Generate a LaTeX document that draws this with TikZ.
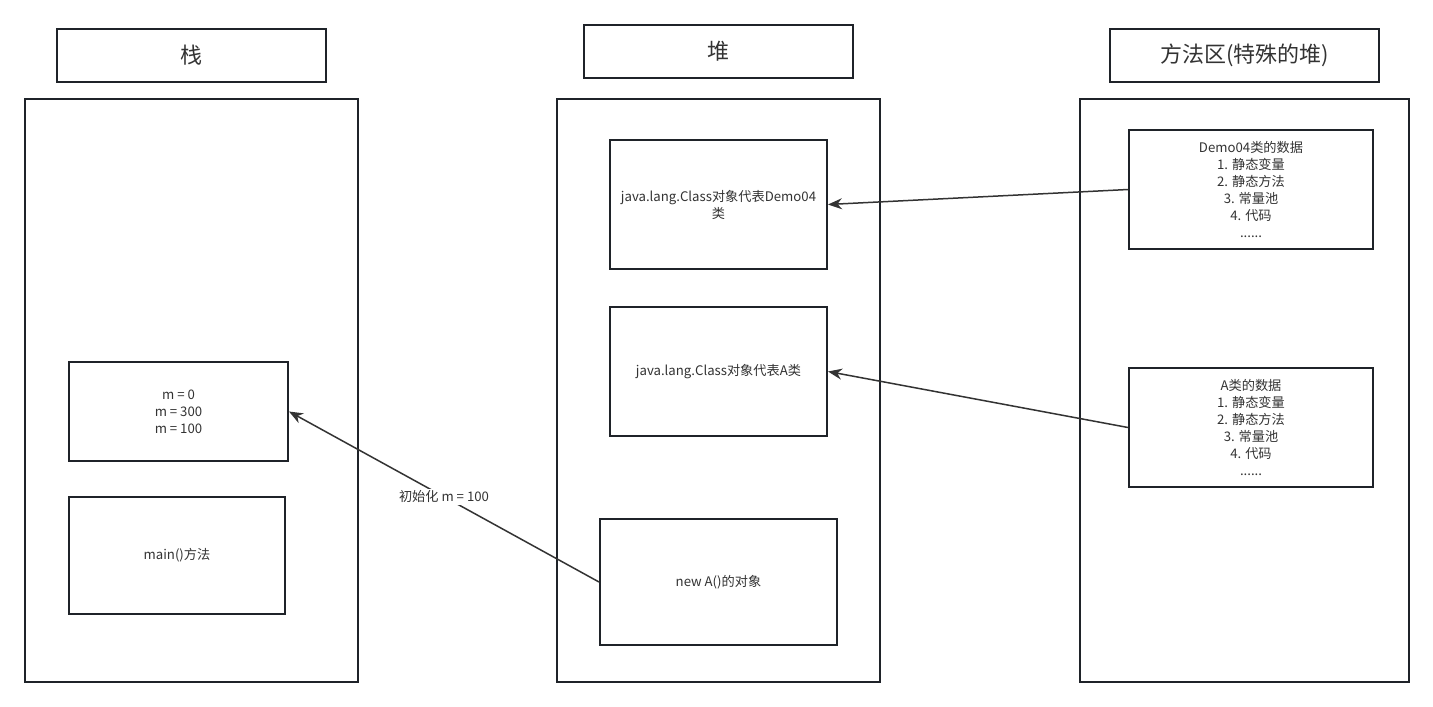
\documentclass[tikz,border=0pt]{standalone}
\usepackage{fontspec}
\setmainfont{Noto Sans CJK SC}
\usepackage{tikz}
\usetikzlibrary{arrows.meta}
\definecolor{edgec}{HTML}{1F2329}
\definecolor{txtc}{HTML}{333333}
\tikzset{
  areabox/.style  = {draw=edgec,line width=1pt,minimum width=#1,minimum height=291.5pt},
  titlebox/.style = {draw=edgec,line width=1pt,minimum width=134.5pt,minimum height=26.5pt,
                     text=txtc,font=\fontsize{11}{13}\selectfont},
  itembox/.style  = {draw=edgec,line width=1pt,text=txtc,align=center,
                     font=\fontsize{6.6}{8.5}\selectfont},
  refarr/.style   = {-{Stealth[length=7pt,width=5.5pt]},line width=0.75pt,draw=txtc}
}
\begin{document}
\begin{tikzpicture}[x=0.5pt,y=-0.5pt]
  \useasboundingbox[fill=white] (0,0) rectangle (1433,706);
  \node[titlebox] (tstack) at (191.5,55.5) {栈};
  \node[titlebox] (theap) at (718.5,51.5) {堆};
  \node[titlebox] (tmeth) at (1244.5,55.5) {方法区(特殊的堆)};
  \node[areabox=166.5pt] (stack) at (191.5,390.5) {};
  \node[areabox=161.5pt] (heap) at (718.5,390.5) {};
  \node[areabox=164.5pt] (meth) at (1244.5,390.5) {};
  \node[itembox,minimum width=109.5pt,minimum height=49.5pt] (mvals) at (178.5,411.5)
    {m = 0\\m = 300\\m = 100};
  \node[itembox,minimum width=108pt,minimum height=58.5pt] (mainm) at (177,555.5) {main()方法};
  \node[itembox,minimum width=108.5pt,minimum height=64.5pt] (clsdemo) at (718.5,204.5)
    {java.lang.Class对象代表Demo04\\类};
  \node[itembox,minimum width=108.5pt,minimum height=64.5pt] (clsa) at (718.5,371.5)
    {java.lang.Class对象代表A类};
  \node[itembox,minimum width=118.5pt,minimum height=63pt] (newa) at (718.5,582) {new A()的对象};
  \node[itembox,minimum width=122pt,minimum height=59.5pt] (ddemo) at (1251,189.5)
    {Demo04类的数据\\1. 静态变量\\2. 静态方法\\3. 常量池\\4. 代码\\......};
  \node[itembox,minimum width=122pt,minimum height=59.5pt] (da) at (1251,427.5)
    {A类的数据\\1. 静态变量\\2. 静态方法\\3. 常量池\\4. 代码\\......};
  \draw[refarr] (ddemo.west) -- (clsdemo.east);
  \draw[refarr] (da.west) -- (clsa.east);
  \draw[refarr] (newa.west) -- (mvals.east)
    node[midway,fill=white,inner sep=1pt,text=txtc,font=\fontsize{6.6}{8.5}\selectfont] (initlbl) {初始化 m = 100};
\end{tikzpicture}
\end{document}
